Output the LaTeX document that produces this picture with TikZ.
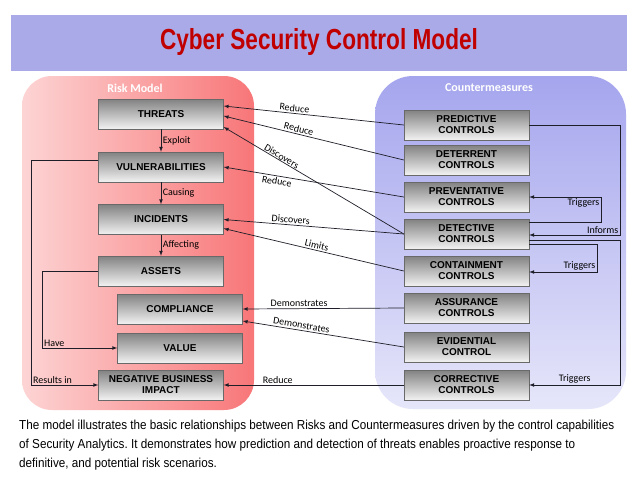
\documentclass[tikz,border=0pt]{standalone}
\usepackage{fontspec}
\setmainfont{Liberation Sans}
\newfontfamily\labelfont{Carlito}
\newfontfamily\narrowfont[FakeStretch=0.9]{Liberation Sans}
\newfontfamily\titlefont[FakeStretch=0.78]{Liberation Sans}
\frenchspacing

\definecolor{titlered}{RGB}{192,0,0}
\definecolor{bandblue}{RGB}{170,170,232}
\definecolor{riskleft}{RGB}{253,212,212}
\definecolor{riskright}{RGB}{248,118,120}
\definecolor{cmtop}{RGB}{165,165,238}
\definecolor{cmbot}{RGB}{230,230,250}
\definecolor{boxtop}{RGB}{130,130,130}
\definecolor{boxbot}{RGB}{242,242,242}
\definecolor{boxline}{RGB}{105,105,105}
\definecolor{linecol}{RGB}{30,30,40}

\tikzset{
    ctrl/.style={draw=boxline, top color=boxtop, bottom color=boxbot,
        minimum width=125pt, minimum height=30pt, inner sep=0pt, align=center,
        font=\fontsize{10}{11}\selectfont\bfseries},
    lbl/.style={font=\labelfont\fontsize{10}{11}\selectfont, inner sep=1.5pt, text=black},
    link/.style={->, line width=0.7pt, draw=linecol},
    region/.style={font=\labelfont\fontsize{12}{13}\selectfont\bfseries, text=white},
}

\begin{document}
\begin{tikzpicture}[x=1pt, y=-1pt, >=latex]
    %\draw[help lines] (0,0) grid (638,479);
    \useasboundingbox[fill=white] (0,0) rectangle (638,479);

    % title band
    \fill[bandblue] (11,15) rectangle (627,71);
    \node[text=titlered, font=\titlefont\fontsize{29}{30}\selectfont\bfseries] (title) at (319,42) {Cyber Security Control Model};

    % the two regions
    \shade[rounded corners=30pt, left color=riskleft, right color=riskright] (22,76) rectangle (254,410);
    \shade[rounded corners=38pt, top color=cmtop, bottom color=cmbot] (375,76) rectangle (626,409);
    \node[region] (riskhead) at (135,88) {Risk Model};
    \node[region] (cmhead) at (489,88) {Countermeasures};

    % risk model
    \node[ctrl] (threats) at (161,114) {THREATS};
    \node[ctrl] (vuln) at (161,167) {VULNERABILITIES};
    \node[ctrl] (incid) at (161,219.5) {INCIDENTS};
    \node[ctrl] (assets) at (161,271) {ASSETS};
    \node[ctrl] (compl) at (180,309) {COMPLIANCE};
    \node[ctrl] (value) at (180,348) {VALUE};
    \node[ctrl] (impact) at (161,385) {NEGATIVE BUSINESS\\IMPACT};

    % countermeasures
    \node[ctrl] (pred) at (466.5,125) {PREDICTIVE\\CONTROLS};
    \node[ctrl] (deter) at (466.5,160) {DETERRENT\\CONTROLS};
    \node[ctrl] (prevent) at (466.5,197) {PREVENTATIVE\\CONTROLS};
    \node[ctrl] (detect) at (466.5,234) {DETECTIVE\\CONTROLS};
    \node[ctrl] (contain) at (466.5,271) {CONTAINMENT\\CONTROLS};
    \node[ctrl] (assure) at (466.5,308) {ASSURANCE\\CONTROLS};
    \node[ctrl] (evid) at (466.5,347) {EVIDENTIAL\\CONTROL};
    \node[ctrl] (correct) at (466.5,385) {CORRECTIVE\\CONTROLS};

    % chain inside the risk model
    \draw[link] (threats) -- (vuln) node[lbl, midway, right] {Exploit};
    \draw[link] (vuln) -- (incid) node[lbl, midway, right] {Causing};
    \draw[link] (incid) -- (assets) node[lbl, midway, right] {Affecting};
    \draw[link] ([yshift=7pt]vuln.west) -- ++(-67,0) |- (impact.west) node[lbl, pos=0.5, above right] {Results in};
    \draw[link] (assets.west) -- ++(-56,0) |- (value.west) node[lbl, pos=0.5, above right] {Have};

    % controls acting on the risks
    \draw[link] (pred.west) -- ([yshift=8pt]threats.east) node[lbl, pos=0.61, above, sloped] {Reduce};
    \draw[link] (deter.west) -- ([yshift=-2pt]threats.east) node[lbl, pos=0.59, above, sloped] {Reduce};
    \draw[link] (detect.west) -- ([yshift=-13pt]threats.east) node[lbl, pos=0.69, above, sloped, inner sep=0.5pt] {Discovers};
    \draw[link] (prevent.west) -- (vuln.east) node[lbl, pos=0.70, below, sloped] {Reduce};
    \draw[link] (detect.west) -- (incid.east) node[lbl, pos=0.63, above, sloped] {Discovers};
    \draw[link] (contain.west) -- ([yshift=-9pt]incid.east) node[lbl, pos=0.49, above, sloped] {Limits};
    \draw[link] (assure.west) -- (compl.east) node[lbl, pos=0.65, above] {Demonstrates};
    \draw[link] (evid.west) -- ([yshift=-12pt]compl.east) node[lbl, pos=0.64, above, sloped] {Demonstrates};
    \draw[link] (correct.west) -- (impact.east) node[lbl, pos=0.70, above] {Reduce};

    % loops between the controls
    \draw[link] (pred.east) -- ++(91,0) |- ([yshift=-1pt]detect.east) node[lbl, pos=0.5, above left] {Informs};
    \draw[link] ([yshift=12pt]detect.east) -- ++(72,0) |- (prevent.east) node[lbl, pos=0.5, below left] {Triggers};
    \draw[link] ([yshift=-10pt]detect.east) -- ++(68,0) |- ([yshift=-1pt]contain.east) node[lbl, pos=0.5, above left] {Triggers};
    \draw[link] ([yshift=-6pt]detect.east) -- ++(91,0) |- (correct.east) node[lbl, pos=0.75, above] {Triggers};

    % caption
    \node[anchor=north west, align=left, inner sep=0pt, font=\narrowfont\fontsize{13}{19}\selectfont] (caption) at (19,420)
        {The model illustrates the basic relationships between Risks and Countermeasures driven by the control capabilities\\
         of Security Analytics. It demonstrates how prediction and detection of threats enables proactive response to\\
         definitive, and potential risk scenarios.};
\end{tikzpicture}
\end{document}
